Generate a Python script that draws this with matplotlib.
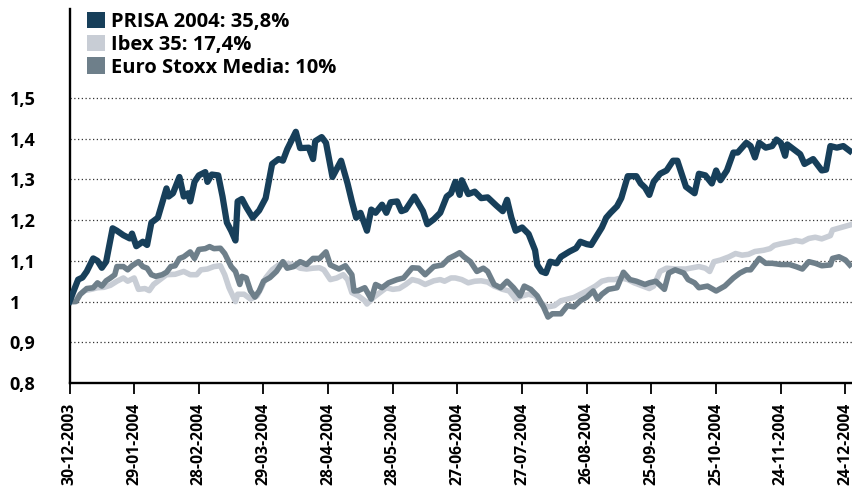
import numpy as np
import matplotlib as mpl
import matplotlib.pyplot as plt
import matplotlib.dates as mdates
from matplotlib.patches import Patch

#-----------------------------------------------------#
#                   DATA                              #
#-----------------------------------------------------#

start_date = np.datetime64('2003-12-30')

# day offsets from 30-12-2003 and index values (base 1)
prisa_days = [0, 4, 6, 8, 11, 13, 15, 17, 20, 22, 25, 28, 29, 31, 34, 36, 38, 41, 43, 45,
              46, 48, 51, 53, 55, 56, 58, 60, 63, 64, 66, 69, 71, 73, 75, 77, 78, 80, 82, 85, 88,
              91, 94, 97, 99, 101, 105, 107, 111, 113, 114, 117, 119, 122, 126, 129, 131, 133, 135, 138, 140,
              142, 145, 147, 149, 152, 154, 156, 160, 164, 166, 169, 172, 175, 177, 179,
              181, 182, 185, 188, 191, 194, 198, 201, 203, 205, 207, 210, 213, 216, 217, 219, 221, 223, 226, 228,
              232, 235, 237, 240, 242, 247, 249, 251, 254, 256, 259, 263, 265, 267, 269,
              271, 274, 277, 280, 282, 286, 290, 292, 295, 298, 300, 302, 305, 308, 310, 314, 316, 318, 320, 323,
              326, 328, 330, 332, 333, 336, 339, 341, 345, 349, 351, 353, 356, 359, 362]
prisa_vals = [1.0, 1.054, 1.059, 1.074, 1.106, 1.10, 1.083, 1.098, 1.18, 1.174, 1.163, 1.155, 1.167, 1.136, 1.147, 1.139, 1.194, 1.206, 1.242, 1.278,
              1.258, 1.266, 1.306, 1.258, 1.266, 1.246, 1.294, 1.31, 1.318, 1.294, 1.312, 1.31, 1.258, 1.194, 1.174, 1.15, 1.246, 1.252, 1.232, 1.206, 1.224,
              1.254, 1.338, 1.35, 1.346, 1.374, 1.417, 1.377, 1.378, 1.35, 1.394, 1.404, 1.39, 1.306, 1.346, 1.29, 1.246, 1.206, 1.218, 1.174, 1.226,
              1.218, 1.238, 1.218, 1.244, 1.246, 1.222, 1.226, 1.258, 1.222, 1.19, 1.202, 1.218, 1.258, 1.266, 1.294,
              1.262, 1.298, 1.264, 1.27, 1.254, 1.256, 1.236, 1.222, 1.25, 1.206, 1.174, 1.182, 1.166, 1.126, 1.09, 1.074, 1.07, 1.098, 1.094, 1.11,
              1.123, 1.131, 1.147, 1.141, 1.139, 1.182, 1.206, 1.218, 1.234, 1.254, 1.308, 1.308, 1.29, 1.28, 1.262,
              1.294, 1.314, 1.322, 1.346, 1.346, 1.282, 1.266, 1.314, 1.31, 1.29, 1.322, 1.298, 1.322, 1.366, 1.366, 1.39, 1.382, 1.354, 1.39, 1.378,
              1.382, 1.398, 1.39, 1.358, 1.386, 1.374, 1.362, 1.338, 1.35, 1.322, 1.324, 1.382, 1.378, 1.382, 1.37]

ibex_days = [0, 2, 5, 7, 10, 13, 16, 19, 22, 25, 27, 30, 32, 35, 37, 39, 43, 45, 49, 53,
             56, 59, 61, 64, 67, 70, 72, 74, 77, 78, 81, 84, 87, 89,
             91, 94, 97, 100, 104, 107, 110, 113, 116, 118, 121, 124, 127, 129, 131, 134, 137, 138, 141, 144,
             147, 150, 153, 156, 159, 162, 165, 169, 172, 174, 177,
             179, 182, 185, 188, 191, 194, 197, 201, 204, 207, 210, 213, 216, 219, 222, 225, 228, 231, 234, 237,
             240, 244, 247, 250, 253, 256, 259, 262, 265, 269,
             271, 274, 277, 281, 286, 289, 292, 295, 297, 299, 302, 306, 309, 312, 315, 318, 322, 325, 327, 330,
             334, 337, 340, 343, 346, 349, 353, 354, 358, 362]
ibex_vals = [1.0, 1.0, 1.018, 1.027, 1.03, 1.034, 1.035, 1.04, 1.05, 1.058, 1.05, 1.058, 1.03, 1.032, 1.027, 1.042, 1.058, 1.066, 1.067, 1.074,
             1.066, 1.066, 1.078, 1.08, 1.086, 1.088, 1.066, 1.034, 1.0, 1.018, 1.018, 1.006, 1.014, 1.034,
             1.058, 1.078, 1.09, 1.094, 1.091, 1.082, 1.08, 1.082, 1.083, 1.078, 1.054, 1.058, 1.066, 1.054, 1.022, 1.014, 1.002, 0.994, 1.01, 1.022,
             1.034, 1.03, 1.032, 1.042, 1.054, 1.05, 1.042, 1.051, 1.054, 1.05, 1.058,
             1.058, 1.054, 1.046, 1.05, 1.051, 1.048, 1.038, 1.03, 1.026, 1.006, 1.014, 1.018, 1.014, 0.994, 0.987, 0.99, 1.002, 1.006, 1.01, 1.018,
             1.026, 1.038, 1.05, 1.054, 1.054, 1.058, 1.054, 1.046, 1.04, 1.032,
             1.038, 1.074, 1.082, 1.08, 1.08, 1.083, 1.086, 1.082, 1.074, 1.098, 1.102, 1.11, 1.118, 1.114, 1.116, 1.123, 1.126, 1.13, 1.138, 1.142,
             1.146, 1.15, 1.147, 1.155, 1.158, 1.154, 1.162, 1.176, 1.182, 1.188]

stoxx_days = [0, 3, 5, 8, 11, 13, 15, 17, 19, 21, 22, 25, 27, 29, 32, 34, 36, 38, 40, 43,
              45, 47, 49, 51, 53, 56, 58, 60, 63, 65, 67, 70, 72, 75, 77, 79, 80, 82, 84, 86, 88,
              90, 93, 96, 99, 101, 104, 107, 110, 113, 116, 119, 121, 125, 128, 131, 132, 134, 137, 140, 142,
              145, 148, 152, 155, 159, 162, 165, 169, 173, 176, 179,
              181, 183, 186, 189, 192, 194, 197, 200, 203, 206, 209, 211, 214, 217, 220, 222, 224, 228, 231, 234,
              237, 240, 243, 245, 247, 250, 254, 257, 260, 263, 267, 269,
              272, 276, 278, 281, 285, 287, 290, 292, 296, 300, 304, 308, 311, 314, 316, 320, 323, 326, 330, 334,
              337, 340, 343, 346, 349, 353, 354, 357, 360, 362]
stoxx_vals = [1.0, 1.0, 1.018, 1.032, 1.034, 1.046, 1.038, 1.051, 1.058, 1.066, 1.086, 1.086, 1.078, 1.088, 1.098, 1.086, 1.082, 1.066, 1.062, 1.066,
              1.072, 1.086, 1.088, 1.106, 1.11, 1.122, 1.106, 1.128, 1.13, 1.135, 1.13, 1.131, 1.118, 1.086, 1.074, 1.042, 1.062, 1.058, 1.026, 1.011, 1.026,
              1.05, 1.059, 1.074, 1.098, 1.082, 1.086, 1.098, 1.091, 1.106, 1.106, 1.122, 1.09, 1.08, 1.088, 1.066, 1.026, 1.027, 1.034, 1.006, 1.042,
              1.034, 1.046, 1.054, 1.058, 1.083, 1.082, 1.066, 1.086, 1.09, 1.106, 1.114,
              1.12, 1.11, 1.098, 1.074, 1.082, 1.074, 1.042, 1.034, 1.05, 1.034, 1.014, 1.038, 1.03, 1.014, 0.986, 0.962, 0.97, 0.97, 0.99, 0.987,
              1.002, 1.011, 1.026, 1.006, 1.018, 1.03, 1.034, 1.072, 1.054, 1.05, 1.042, 1.046,
              1.05, 1.03, 1.07, 1.078, 1.07, 1.054, 1.046, 1.034, 1.038, 1.026, 1.038, 1.058, 1.07, 1.078, 1.078, 1.106, 1.094, 1.094, 1.091, 1.091,
              1.086, 1.08, 1.098, 1.094, 1.088, 1.09, 1.106, 1.11, 1.102, 1.09]

series_labels = ['PRISA 2004: 35,8%', 'Ibex 35: 17,4%', 'Euro Stoxx Media: 10%']
y_ticks = [0.8, 0.9, 1.0, 1.1, 1.2, 1.3, 1.4, 1.5]
y_ticklabels = ['0,8', '0,9', '1', '1,1', '1,2', '1,3', '1,4', '1,5']
tick_step_days = 30

#-----------------------------------------------------#
#                   SETTINGS                          #
#-----------------------------------------------------#

c_prisa = '#173f5a'
c_ibex = '#c8cdd5'
c_stoxx = '#6e7f8a'

mpl.rcParams.update({
    'font.family': 'Open Sans',
    'font.weight': 'bold',
    'axes.linewidth': 1.7,
})

def to_dates(days):
    return start_date + np.array(days).astype('timedelta64[D]')

#-----------------------------------------------------#
#                   PLOTTING                          #
#-----------------------------------------------------#

fig = plt.figure(figsize=(8.52, 4.88), dpi=100)
ax = fig.add_axes([69.5 / 852, 1 - 383 / 488, 782 / 852, 374 / 488])

# dotted grid, under data
ax.set_axisbelow(True)
for yv in y_ticks[1:]:
    ax.axhline(yv, color='#333333', linestyle=(0, (1, 2)), linewidth=0.9, zorder=0)

ax.plot(to_dates(ibex_days), ibex_vals, color=c_ibex, lw=4.0, solid_joinstyle='round', zorder=2)
ax.plot(to_dates(stoxx_days), stoxx_vals, color=c_stoxx, lw=4.0, solid_joinstyle='round', zorder=3)
ax.plot(to_dates(prisa_days), prisa_vals, color=c_prisa, lw=4.5, solid_joinstyle='round', zorder=4)

ax.spines['right'].set_visible(False)
ax.spines['top'].set_visible(False)

y_top = 1.5 + 89 / (285 / 0.7)
ax.set_ylim(0.8, y_top)
x0 = mdates.date2num(start_date)
ax.set_xlim(x0, x0 + 362.8)

ax.set_yticks(y_ticks)
ax.set_yticklabels(y_ticklabels, fontsize=13, fontweight='bold')
ax.tick_params(axis='y', length=0, pad=43)
for lab in ax.get_yticklabels():
    lab.set_horizontalalignment('left')

ax.set_xticks(to_dates(np.arange(0, 361, tick_step_days)))
ax.xaxis.set_major_formatter(mdates.DateFormatter('%d-%m-%Y'))
ax.tick_params(axis='x', length=8, width=1.3, pad=6, labelsize=11.3, rotation=90)
for lab in ax.get_xticklabels():
    lab.set_fontweight('bold')

# legend with square patches
handles = [Patch(facecolor=c, edgecolor='none') for c in (c_prisa, c_ibex, c_stoxx)]
ax.legend(handles, series_labels, loc='upper left', bbox_to_anchor=(17.5 / 782, 0.993),
          frameon=False, borderpad=0, borderaxespad=0,
          handlelength=0.9, handleheight=0.9, handletextpad=0.3, labelspacing=0.13,
          prop={'weight': 'bold', 'size': 14.5})

plt.savefig('out.png', dpi=100)
